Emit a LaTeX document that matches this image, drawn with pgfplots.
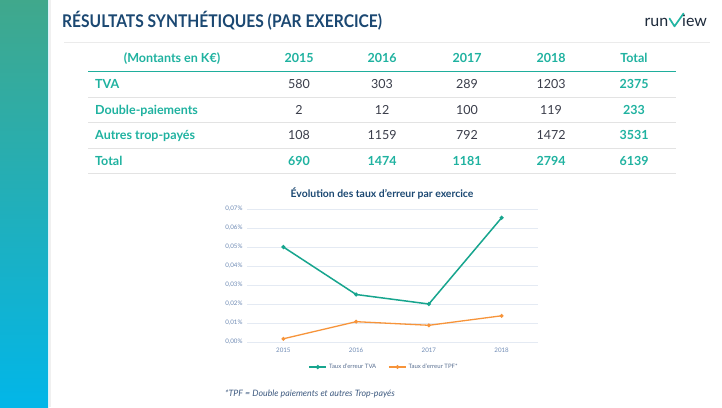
\documentclass[border=0pt]{standalone}
\usepackage{fontspec}
\setmainfont{Lato}
\usepackage{graphicx}
\usepackage{pgfplots}
\pgfplotsset{compat=1.18}
\definecolor{navy}{HTML}{1B4872}
\definecolor{teal1}{HTML}{1FB2A0}
\definecolor{tealline}{HTML}{1FAE9C}
\definecolor{numc}{HTML}{3A3D4A}
\definecolor{sepc}{HTML}{E3E3E3}
\definecolor{tva}{HTML}{17A58E}
\definecolor{tpf}{HTML}{F7943A}
\definecolor{tickc}{HTML}{6F8BB5}
\definecolor{gridc}{HTML}{E4EAF3}
\definecolor{logoc}{HTML}{1E2B3C}
\definecolor{logov}{HTML}{22B5A2}
\definecolor{foot}{HTML}{3E5A80}
\begin{document}
\begin{tikzpicture}[x=1pt,y=-1pt]
\useasboundingbox (0,0) rectangle (722,407);
\fill[white] (0,0) rectangle (722,407);
% sidebar
\shade[top color={rgb,255:red,64;green,168;blue,140}, middle color={rgb,255:red,22;green,190;blue,168}, bottom color={rgb,255:red,2;green,182;blue,232}] (0,0) rectangle (48,407);
\fill[white!85!cyan] (48,0) rectangle (49.3,407);
\fill[black!6] (49.3,0) rectangle (50.5,407);
% title
\node[anchor=base west, inner sep=0pt, text=navy, font=\bfseries\fontsize{17.5}{20}\selectfont] at (62,27) {\scalebox{0.89}[1]{RÉSULTATS SYNTHÉTIQUES (PAR EXERCICE)}};
% logo
\node[anchor=base east, inner sep=0pt, text=logoc, font=\fontsize{16}{18}\selectfont] at (668.5,26.7) {run};
\node[anchor=base west, inner sep=0pt, text=logoc, font=\fontsize{16}{18}\selectfont] at (682,26.7) {iew};
\draw[logov, line width=1.7pt, line cap=round, line join=round] (669.5,18.5) -- (674.5,26.3) -- (683.5,13.5);
% top line
\draw[black!8, line width=1.4pt] (64,42.7) -- (710,42.7);
% table
\begin{scope}[every node/.style={inner sep=0pt, font=\fontsize{12.5}{14}\selectfont}]
\node[anchor=base, text=teal1, font=\bfseries\fontsize{12.5}{14}\selectfont] at (172,62.5) {(Montants en K€)};
\foreach \x/\t in {299/2015,382/2016,467/2017,551/2018,634/Total}
  \node[anchor=base, text=teal1, font=\bfseries\fontsize{12.5}{14}\selectfont] at (\x,62.5) {\t};
\draw[tealline, line width=1.6pt] (88,71.3) -- (676,71.3);
\foreach \y in {97,122,148,173}
  \draw[sepc, line width=1pt] (88,\y) -- (676,\y);
\foreach \y/\t in {88.5/TVA,114/Double-paiements,139.5/Autres trop-payés,165/Total}
  \node[anchor=base west, text=teal1, font=\bfseries\fontsize{12.5}{14}\selectfont] at (95,\y) {\t};
\foreach \a/\b/\c/\d/\e/\y in {580/303/289/1203/2375/88.5, 2/12/100/119/233/114, 108/1159/792/1472/3531/139.5}{
  \node[anchor=base, text=numc] at (299,\y) {\a};
  \node[anchor=base, text=numc] at (382,\y) {\b};
  \node[anchor=base, text=numc] at (467,\y) {\c};
  \node[anchor=base, text=numc] at (551,\y) {\d};
  \node[anchor=base, text=teal1, font=\bfseries\fontsize{12.5}{14}\selectfont] at (634,\y) {\e};
}
\foreach \x/\t in {299/690,382/1474,467/1181,551/2794,634/6139}
  \node[anchor=base, text=teal1, font=\bfseries\fontsize{12.5}{14}\selectfont] at (\x,165) {\t};
\end{scope}
% chart title
\node[anchor=base, inner sep=0pt, text=navy, font=\bfseries\fontsize{10.4}{12}\selectfont] at (382,197.5) {Évolution des taux d'erreur par exercice};
% chart
\begin{axis}[
  at={(247pt,-342pt)}, anchor=south west,
  width=291pt, height=133pt, scale only axis,
  xmin=-0.5, xmax=3.5, ymin=0, ymax=0.07,
  axis line style={draw=none},
  scaled y ticks=false,
  xtick={0,1,2,3}, xticklabels={2015,2016,2017,2018},
  ytick={0,0.01,0.02,0.03,0.04,0.05,0.06,0.07},
  yticklabels={{0,00\%},{0,01\%},{0,02\%},{0,03\%},{0,04\%},{0,05\%},{0,06\%},{0,07\%}},
  ymajorgrids, major grid style={gridc, line width=0.8pt},
  tick style={draw=none},
  ticklabel style={text=tickc, font=\fontsize{6.2}{7}\selectfont},
  yticklabel style={xshift=-1pt},
  xticklabel style={yshift=-2pt},
  legend columns=2,
  legend style={at={(0.471,-0.188)}, anchor=center, draw=none, fill=none,
    font=\fontsize{6}{7}\selectfont, text=tickc!80!black,
    /tikz/every even column/.append style={column sep=10pt}},
  legend cell align=left,
]
\addplot[tva, line width=1.5pt, mark=*, mark size=1.3pt] coordinates {(0,0.050) (1,0.025) (2,0.020) (3,0.0654)};
\addlegendentry{Taux d'erreur TVA}
\addplot[tpf, line width=1.3pt, mark=*, mark size=1.2pt] coordinates {(0,0.0017) (1,0.0107) (2,0.0088) (3,0.0138)};
\addlegendentry{Taux d'erreur TPF*}
\end{axis}
% footnote
\node[anchor=base west, inner sep=0pt, text=foot, font=\itshape\fontsize{8.8}{10}\selectfont] at (225,396) {*TPF = Double paiements et autres Trop-payés};
\end{tikzpicture}
\end{document}
